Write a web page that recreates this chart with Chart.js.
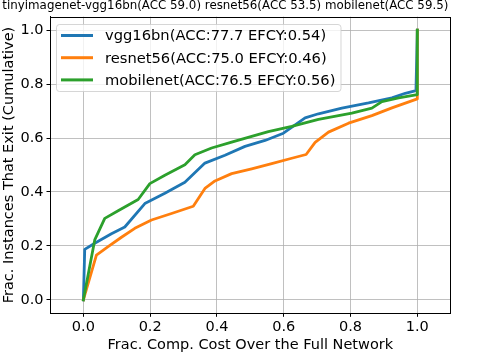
<!DOCTYPE html>
<html>
<head>
<meta charset="utf-8">
<script src="https://cdn.jsdelivr.net/npm/chart.js@4/dist/chart.umd.min.js"></script>
<style>
html,body{margin:0;padding:0;background:#fff;}
#wrap{width:478px;height:354px;position:relative;}
</style>
</head>
<body>
<div id="wrap"><canvas id="c" width="478" height="354"></canvas></div>
<script>
const titleText = 'tinyimagenet-vgg16bn(ACC 59.0) resnet56(ACC 53.5) mobilenet(ACC 59.5)';
const xLabel = 'Frac. Comp. Cost Over the Full Network';
const yLabel = 'Frac. Instances That Exit (Cumulative)';
const seriesNames = ['vgg16bn(ACC:77.7 EFCY:0.54)', 'resnet56(ACC:75.0 EFCY:0.46)', 'mobilenet(ACC:76.5 EFCY:0.56)'];
const seriesColors = ['#1f77b4', '#ff7f0e', '#2ca02c'];

const xTickValues = [0, 0.2, 0.4, 0.6, 0.8, 1.0];
const xTickLabels = ['0.0', '0.2', '0.4', '0.6', '0.8', '1.0'];
const yTickValues = [0, 0.2, 0.4, 0.6, 0.8, 1.0];
const yTickLabels = ['0.0', '0.2', '0.4', '0.6', '0.8', '1.0'];

const vggX = [0, 0.004, 0.034, 0.084, 0.124, 0.184, 0.244, 0.304, 0.364, 0.424, 0.484, 0.544, 0.599, 0.664, 0.704, 0.774, 0.854, 0.924, 0.964, 0.996, 1.0];
const vggY = [0, 0.187, 0.21, 0.245, 0.27, 0.357, 0.395, 0.436, 0.507, 0.536, 0.569, 0.591, 0.618, 0.675, 0.69, 0.711, 0.73, 0.749, 0.766, 0.776, 1.0];

const resX = [0, 0.039, 0.074, 0.114, 0.154, 0.204, 0.264, 0.329, 0.364, 0.394, 0.444, 0.504, 0.564, 0.624, 0.667, 0.694, 0.734, 0.794, 0.864, 0.924, 1.0, 1.0];
const resY = [0, 0.166, 0.197, 0.232, 0.265, 0.296, 0.32, 0.347, 0.413, 0.441, 0.468, 0.486, 0.505, 0.525, 0.539, 0.584, 0.622, 0.655, 0.683, 0.712, 0.745, 1.0];

const mobX = [0, 0.034, 0.064, 0.104, 0.164, 0.199, 0.244, 0.304, 0.334, 0.384, 0.444, 0.504, 0.554, 0.624, 0.704, 0.804, 0.864, 0.894, 0.944, 1.0, 1.0];
const mobY = [0, 0.222, 0.302, 0.33, 0.372, 0.431, 0.462, 0.501, 0.538, 0.563, 0.585, 0.606, 0.624, 0.643, 0.669, 0.692, 0.711, 0.735, 0.749, 0.761, 1.0];

function pts(xs, ys) { return xs.map((x, i) => ({x: x, y: ys[i]})); }

const FONT = 'DejaVu Sans';
const FS = 14.5;

const frameAndLegend = {
  id: 'frameAndLegend',
  afterDatasetsDraw(chart) {
    const ctx = chart.ctx;
    const a = chart.chartArea;
    ctx.save();
    ctx.strokeStyle = '#000';
    ctx.lineWidth = 1;
    ctx.strokeRect(Math.round(a.left) + 0.5, Math.round(a.top) + 0.5, Math.round(a.right - a.left) - 1, Math.round(a.bottom - a.top) - 1);
    // legend
    const lx = 56.5, ly = 24.5, lw = 284.5, lh = 67;
    ctx.beginPath();
    if (ctx.roundRect) ctx.roundRect(lx, ly, lw, lh, 3); else ctx.rect(lx, ly, lw, lh);
    ctx.fillStyle = 'rgba(255,255,255,0.8)';
    ctx.fill();
    ctx.strokeStyle = 'rgba(204,204,204,0.8)';
    ctx.lineWidth = 1;
    ctx.stroke();
    ctx.font = '14.7px "' + FONT + '"';
    ctx.textBaseline = 'middle';
    ctx.textAlign = 'left';
    for (let i = 0; i < seriesNames.length; i++) {
      const cy = 35.5 + i * 22.2;
      ctx.beginPath();
      ctx.moveTo(61, cy);
      ctx.lineTo(93, cy);
      ctx.strokeStyle = seriesColors[i];
      ctx.lineWidth = 3;
      ctx.lineCap = 'butt';
      ctx.stroke();
      ctx.fillStyle = '#000';
      ctx.fillText(seriesNames[i], 105, cy + 1);
    }
    ctx.restore();
  }
};

const ds = [pts(vggX, vggY), pts(resX, resY), pts(mobX, mobY)].map((d, i) => ({
  label: seriesNames[i],
  data: d,
  borderColor: seriesColors[i],
  backgroundColor: seriesColors[i],
  borderWidth: 2.8,
  pointRadius: 0,
  tension: 0,
  fill: false,
  borderJoinStyle: 'round',
  borderCapStyle: 'square',
  order: 3 - i
}));

new Chart(document.getElementById('c'), {
  type: 'line',
  data: { datasets: ds },
  options: {
    responsive: false,
    animation: false,
    devicePixelRatio: 1,
    layout: { padding: { left: 0, right: 27.3, top: 0, bottom: 0 } },
    plugins: {
      legend: { display: false },
      tooltip: { enabled: false },
      title: {
        display: true,
        text: titleText,
        color: '#000',
        font: { family: FONT, size: 11.85, weight: 'normal', lineHeight: 1 },
        padding: { top: 0, bottom: 4.85 }
      }
    },
    scales: {
      x: {
        type: 'linear',
        min: -0.1, max: 1.1,
        afterBuildTicks: (ax) => { ax.ticks = xTickValues.map(v => ({value: v})); },
        afterFit: (ax) => { ax.height = 40.7; },
        ticks: {
          color: '#000',
          font: { family: FONT, size: FS },
          padding: 2,
          maxRotation: 0,
          autoSkip: false,
          callback: (v, i) => xTickLabels[i]
        },
        grid: { color: '#b0b0b0', lineWidth: 0.8, tickColor: '#000', tickLength: 3.5, tickWidth: 1 },
        border: { display: true, color: '#000', width: 1 },
        title: { display: true, text: xLabel, color: '#000', font: { family: FONT, size: FS, lineHeight: 1.2 }, padding: { top: 0, bottom: 0 } }
      },
      y: {
        type: 'linear',
        min: -0.05, max: 1.05,
        afterBuildTicks: (ax) => { ax.ticks = yTickValues.map(v => ({value: v})); },
        afterFit: (ax) => { ax.width = 50; },
        ticks: {
          color: '#000',
          font: { family: FONT, size: FS },
          padding: 3,
          autoSkip: false,
          callback: (v, i) => yTickLabels[i]
        },
        grid: { color: '#b0b0b0', lineWidth: 0.8, tickColor: '#000', tickLength: 3.5, tickWidth: 1 },
        border: { display: true, color: '#000', width: 1 },
        title: { display: true, text: yLabel, color: '#000', font: { family: FONT, size: FS, lineHeight: 1.2 }, padding: { top: 1, bottom: 0 } }
      }
    }
  },
  plugins: [frameAndLegend]
});
</script>
</body>
</html>
